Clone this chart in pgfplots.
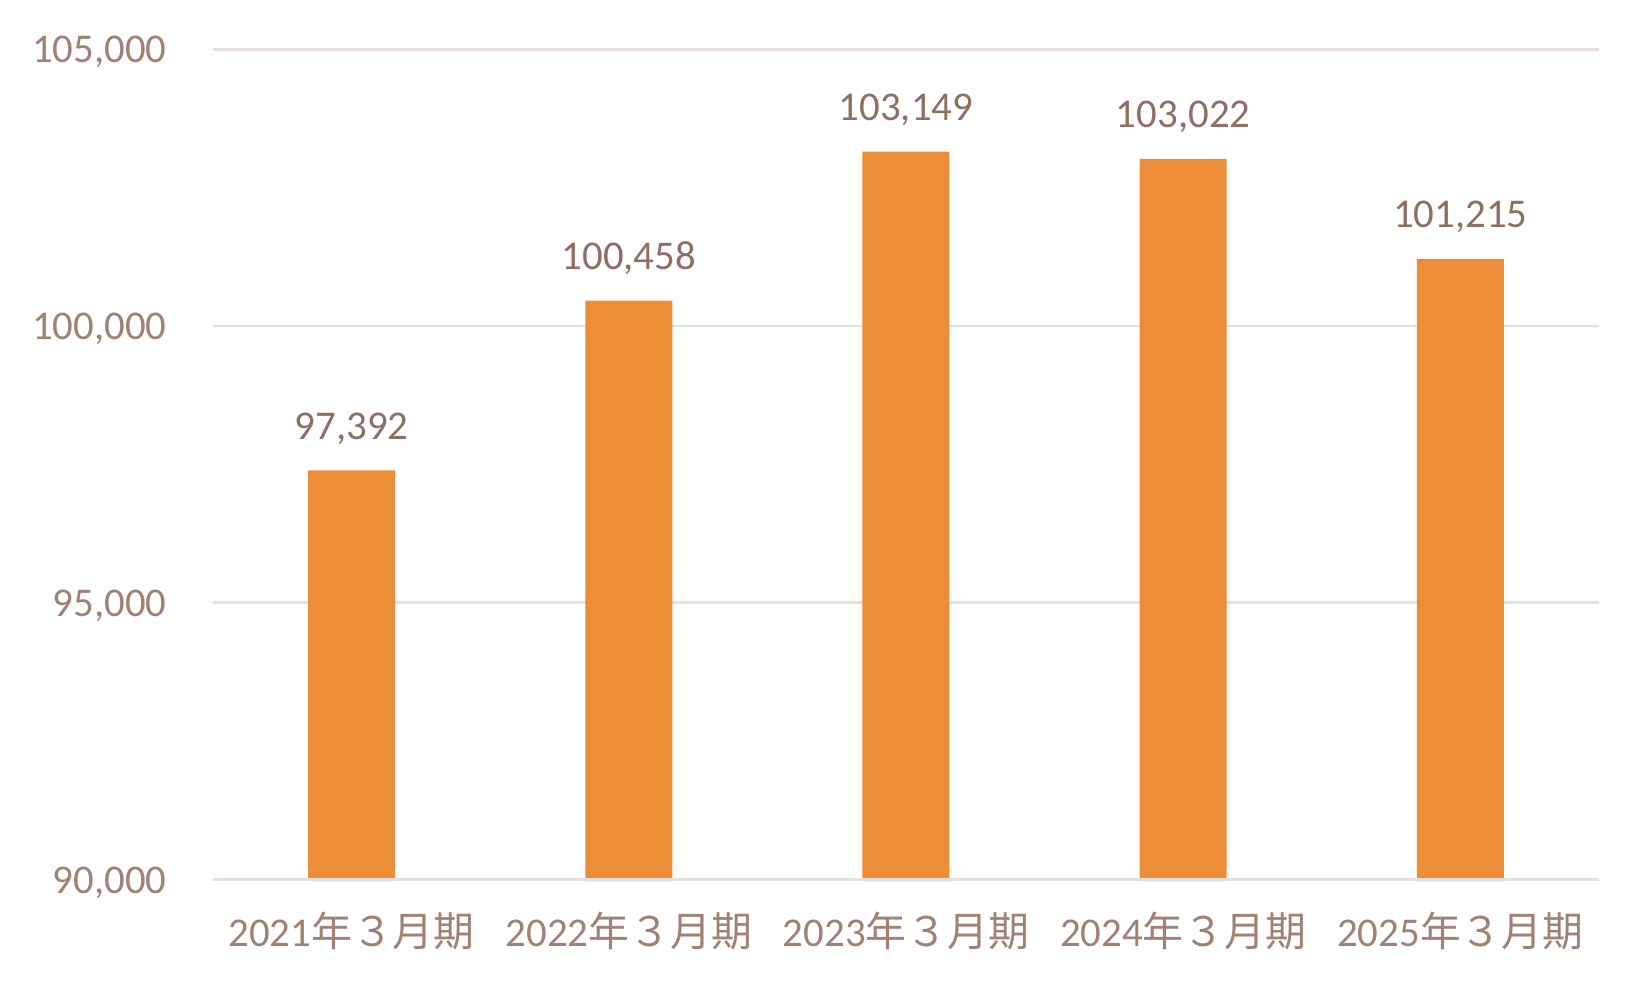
\documentclass[border=0pt]{standalone}
\usepackage{fontspec}
\setmainfont{Carlito}
\newfontfamily\cjk{Noto Sans CJK JP}
\usepackage{pgfplots}
\pgfplotsset{compat=1.18}
\definecolor{barcol}{HTML}{EC8E37}
\definecolor{tickcol}{HTML}{A08173}
\definecolor{labcol}{HTML}{8F6F62}
\definecolor{gridcol}{HTML}{E8DEDD}
\begin{document}
\begin{tikzpicture}
\useasboundingbox (-213bp,-107.8bp) rectangle (1437bp,881.2bp);
\begin{axis}[
    scale only axis,
    width=1386bp,
    height=831.9bp,
    xmin=-0.5, xmax=4.5,
    ymin=89970, ymax=105000,
    xtick={0,1,2,3,4},
    xticklabels={
      2021{\cjk 年３月期},
      2022{\cjk 年３月期},
      2023{\cjk 年３月期},
      2024{\cjk 年３月期},
      2025{\cjk 年３月期}},
    ytick={90000,95000,100000,105000},
    ymajorgrids,
    major grid style={draw=gridcol, line width=2.7bp},
    axis line style={draw=none},
    major tick length=0pt,
    /pgf/number format/.cd, fixed, 1000 sep={,}, assume math mode=true,
    /pgfplots/.cd,
    scaled y ticks=false,
    ticklabel style={font=\fontsize{41}{49}\selectfont, text=tickcol},
    yticklabel style={xshift=-43bp, yshift=-3bp},
    xticklabel style={yshift=-27bp},
]
\addplot[ybar, bar width=87bp, fill=barcol, draw=none,
    nodes near coords,
    nodes near coords style={font=\fontsize{41}{49}\selectfont, text=labcol,
        anchor=base, yshift=31bp,
        /pgf/number format/.cd, fixed, 1000 sep={,}, assume math mode=true}]
  coordinates {(0,97392) (1,100458) (2,103149) (3,103022) (4,101215)};
% baseline grid line drawn over the bars, as in the reference
\addplot[gridcol, line width=2.7bp, mark=none, forget plot]
  coordinates {(-0.5,90000) (4.5,90000)};
\end{axis}
\end{tikzpicture}
\end{document}
